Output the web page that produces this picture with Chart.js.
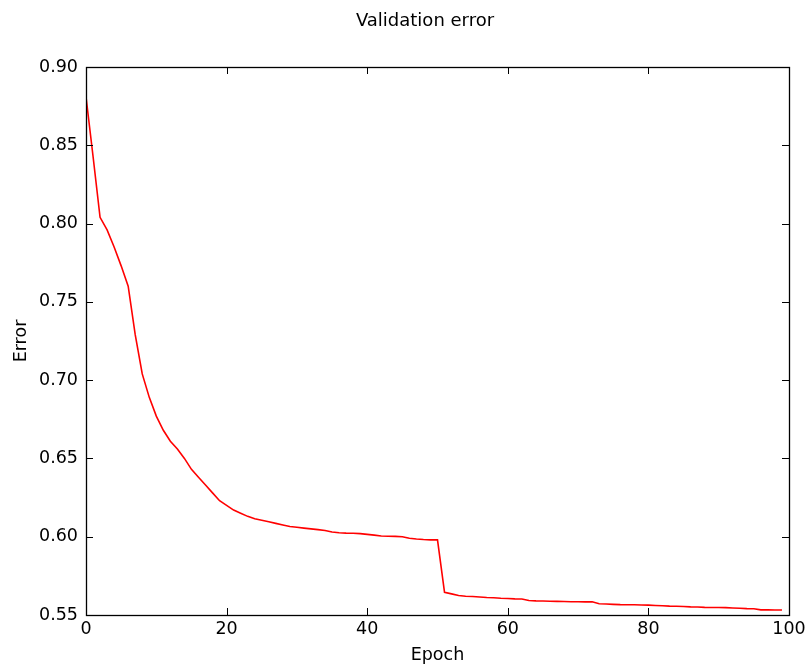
<!DOCTYPE html>
<html>
<head>
<meta charset="utf-8">
<script src="https://cdn.jsdelivr.net/npm/chart.js@4/dist/chart.umd.min.js"></script>
<style>
  html, body { margin: 0; padding: 0; background: #fff; }
  canvas { display: block; }
</style>
</head>
<body>
<canvas id="c" width="810" height="670"></canvas>
<script>
// validation error per epoch
const TITLE = 'Validation error';
const X_LABEL = 'Epoch';
const Y_LABEL = 'Error';
const X_TICKS = [0, 20, 40, 60, 80, 100];
const Y_TICKS = [0.55, 0.60, 0.65, 0.70, 0.75, 0.80, 0.85, 0.90];
const ERR = [
  0.881, 0.843, 0.804, 0.796, 0.785, 0.773, 0.760, 0.729, 0.704, 0.689,
  0.677, 0.668, 0.661, 0.656, 0.650, 0.643, 0.638, 0.633, 0.628, 0.623,
  0.620, 0.617, 0.615, 0.613, 0.6115, 0.6105, 0.6095, 0.6085, 0.6075, 0.6065,
  0.606, 0.6055, 0.605, 0.6045, 0.604, 0.603, 0.6025, 0.6023, 0.6022, 0.602,
  0.6015, 0.601, 0.6005, 0.6003, 0.6002, 0.600, 0.599, 0.5985, 0.5982, 0.598,
  0.598, 0.5645, 0.5635, 0.5625, 0.562, 0.5618, 0.5615, 0.5612, 0.561, 0.5607,
  0.5605, 0.5603, 0.5602, 0.5593, 0.559, 0.5589, 0.5588, 0.5587, 0.5586, 0.5585,
  0.5585, 0.5584, 0.5584, 0.5572, 0.557, 0.5568, 0.5566, 0.5565, 0.5565, 0.5564,
  0.5563, 0.5561, 0.5559, 0.5557, 0.5556, 0.5554, 0.5552, 0.5551, 0.5549, 0.5548,
  0.5548, 0.5547, 0.5545, 0.5543, 0.5541, 0.554, 0.5533, 0.5533, 0.5532, 0.5532
];
const EPOCHS = ERR.map((_, i) => i);

const FONT = 'DejaVu Sans';

// matplotlib-like frame: box on all four sides, ticks pointing inward, centred title
const frame = {
  id: 'frame',
  afterDraw(chart) {
    const {ctx, chartArea: a, scales: {x, y}} = chart;
    const L = 7;
    ctx.save();
    ctx.strokeStyle = '#000'; ctx.lineWidth = 1;
    ctx.beginPath();
    X_TICKS.forEach(v => {
      const px = Math.round(x.getPixelForValue(v)) + 0.5;
      ctx.moveTo(px, a.bottom); ctx.lineTo(px, a.bottom - L);
      ctx.moveTo(px, a.top); ctx.lineTo(px, a.top + L);
    });
    Y_TICKS.forEach(v => {
      const py = Math.round(y.getPixelForValue(v)) + 0.5;
      ctx.moveTo(a.left, py); ctx.lineTo(a.left + L, py);
      ctx.moveTo(a.right, py); ctx.lineTo(a.right - L, py);
    });
    ctx.stroke();
    ctx.lineWidth = 1.3;
    ctx.strokeRect(Math.round(a.left) + 0.5, Math.round(a.top) + 0.5,
      Math.round(a.right - a.left), Math.round(a.bottom - a.top));
    ctx.fillStyle = '#000';
    ctx.font = `18px "${FONT}"`;
    ctx.textAlign = 'center'; ctx.textBaseline = 'alphabetic';
    ctx.fillText(TITLE, 425, 26);
    ctx.restore();
  }
};

new Chart(document.getElementById('c'), {
  type: 'line',
  data: {
    datasets: [{
      data: EPOCHS.map((e, i) => ({x: e, y: ERR[i]})),
      borderColor: '#ff0000', borderWidth: 1.6,
      pointRadius: 0, tension: 0, fill: false
    }]
  },
  options: {
    responsive: false, animation: false,
    layout: {padding: {top: 67, right: 21, left: 0, bottom: 0}},
    plugins: {legend: {display: false}, tooltip: {enabled: false}, title: {display: false}},
    scales: {
      x: {
        type: 'linear', min: 0, max: 100,
        afterBuildTicks: s => { s.ticks = X_TICKS.map(v => ({value: v})); },
        afterFit: s => { s.height = 55; },
        grid: {display: false, drawTicks: false},
        border: {display: false},
        ticks: {color: '#000', padding: 4, font: {family: FONT, size: 17.5}},
        title: {display: true, text: X_LABEL, color: '#000', padding: {top: 0, bottom: 4},
          font: {family: FONT, size: 17.5}}
      },
      y: {
        type: 'linear', min: 0.55, max: 0.90,
        afterBuildTicks: s => { s.ticks = Y_TICKS.map(v => ({value: v})); },
        afterFit: s => { s.width = 86; },
        grid: {display: false, drawTicks: false},
        border: {display: false},
        ticks: {color: '#000', padding: 8, font: {family: FONT, size: 17.5},
          callback: v => v.toFixed(2)},
        title: {display: true, text: Y_LABEL, color: '#000', padding: {top: 11, bottom: 0},
          font: {family: FONT, size: 17.5}}
      }
    }
  },
  plugins: [frame]
});
</script>
</body>
</html>
